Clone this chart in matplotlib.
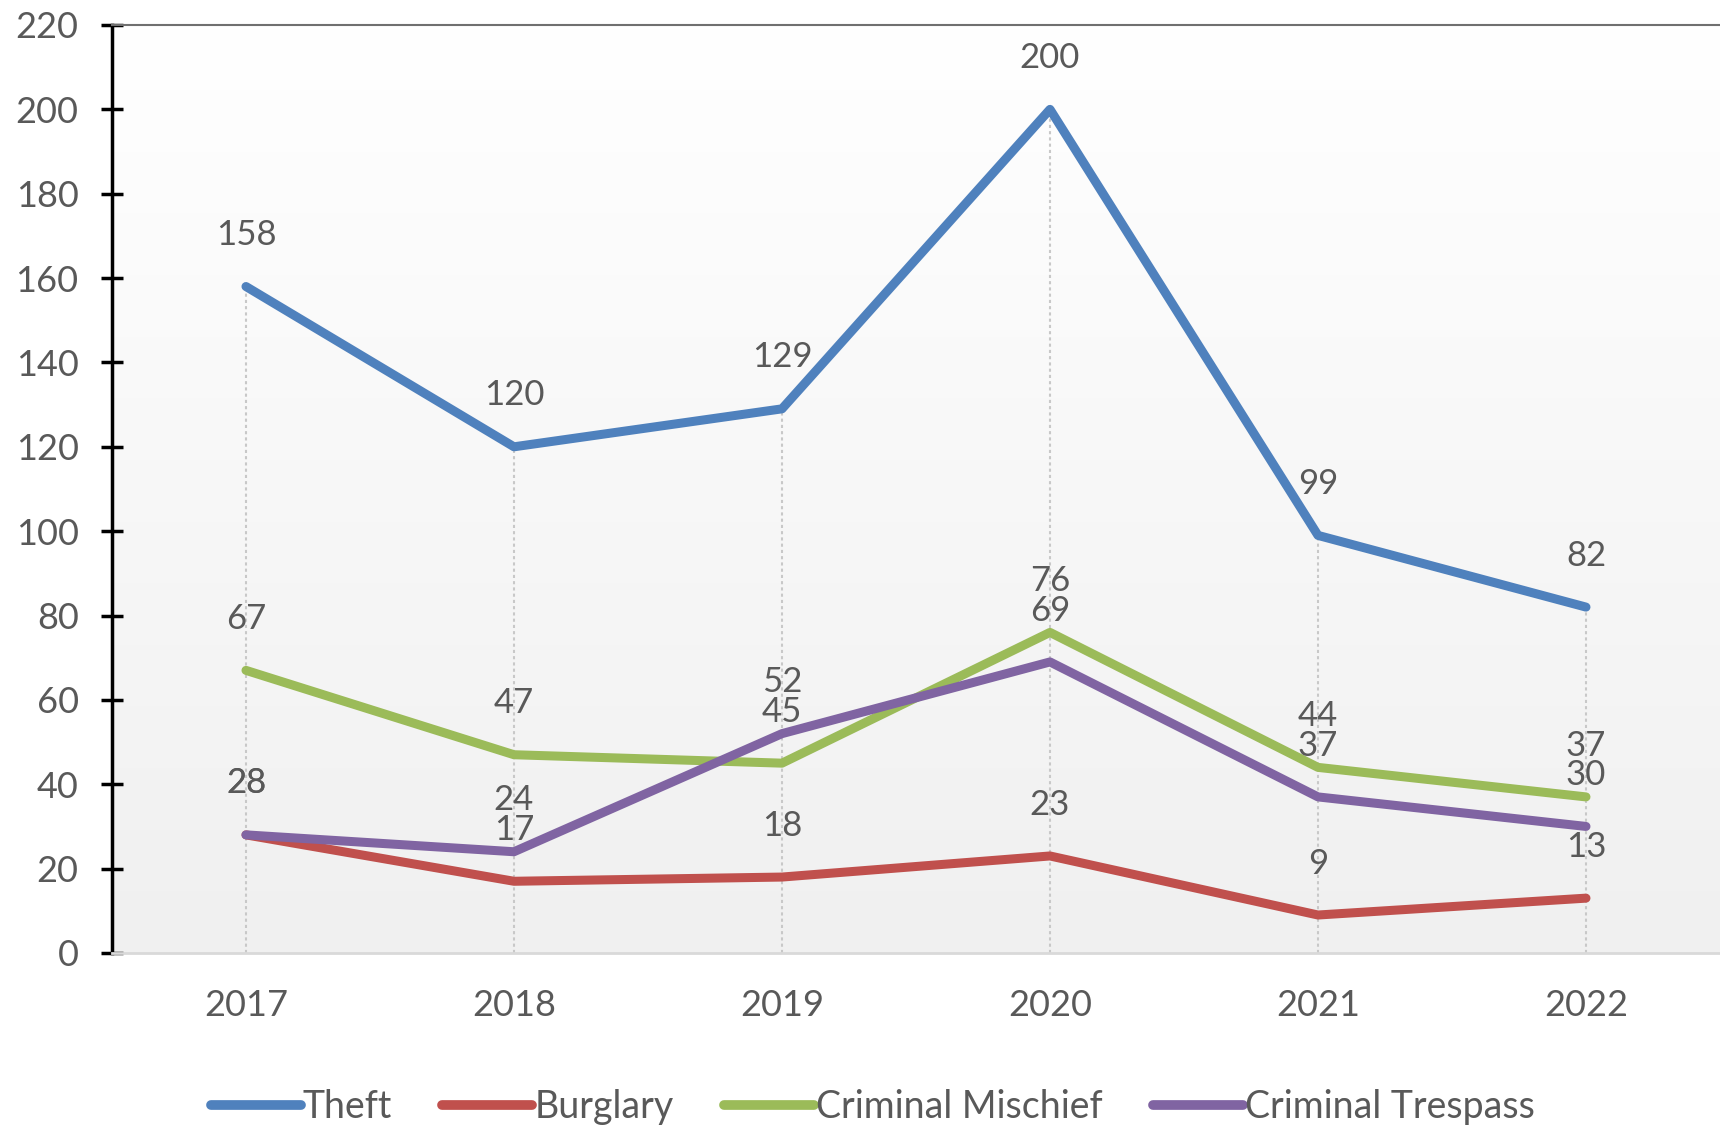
import numpy as np
import matplotlib.pyplot as plt

plt.rcParams['font.family'] = ['Lato', 'DejaVu Sans']

years = ['2017', '2018', '2019', '2020', '2021', '2022']
theft = [158, 120, 129, 200, 99, 82]
burglary = [28, 17, 18, 23, 9, 13]
mischief = [67, 47, 45, 76, 44, 37]
trespass = [28, 24, 52, 69, 37, 30]

series = [
    ('Theft', theft, '#4F81BD'),
    ('Burglary', burglary, '#C0504D'),
    ('Criminal Mischief', mischief, '#9BBB59'),
    ('Criminal Trespass', trespass, '#8064A2'),
]
txt_col = '#595959'

fig = plt.figure(figsize=(17.2, 11.31), dpi=100)
ax = fig.add_axes([0.0651, 0.1574, 0.9349, 0.8205])

x = np.arange(len(years))

# background gradient, white at top to light gray at bottom
grad = np.linspace(1.0, 0.0, 256).reshape(-1, 1)
ax.imshow(grad, extent=[0, 1, 0, 1], transform=ax.transAxes, aspect='auto',
          cmap=plt.matplotlib.colors.LinearSegmentedColormap.from_list('g', ['#f0f0f0', '#ffffff']),
          zorder=0)

# drop lines
tops = np.max([theft, burglary, mischief, trespass], axis=0)
ax.vlines(x, 0, tops, colors='#c8c8c8', linestyles=(0, (1.5, 1.5)), linewidth=1.5, zorder=1)

for name, vals, col in series:
    ax.plot(x, vals, color=col, linewidth=6.5, solid_capstyle='round',
            solid_joinstyle='round', label=name, zorder=3)
    for xi, v in zip(x, vals):
        ax.annotate(str(v), (xi, v), xytext=(0, 37), textcoords='offset points',
                    ha='center', va='center', fontsize=25, color=txt_col, zorder=4)

ax.set_xlim(-0.5, len(years) - 0.5)
ax.set_ylim(0, 220)
ax.set_yticks(range(0, 221, 20))
ax.set_xticks(x)
ax.set_xticklabels(years)

ax.spines['right'].set_visible(False)
ax.spines['top'].set_color('#707070')
ax.spines['top'].set_linewidth(1.5)
ax.spines['bottom'].set_color('#d9d9d9')
ax.spines['bottom'].set_linewidth(2)
ax.spines['left'].set_color('black')
ax.spines['left'].set_linewidth(2.5)

ax.tick_params(axis='y', direction='inout', length=16, width=2.5, color='black',
               labelsize=26, labelcolor=txt_col, pad=16)
ax.tick_params(axis='x', length=0, labelsize=26, labelcolor=txt_col, pad=26)

leg = fig.legend(loc='center', bbox_to_anchor=(0.5075, 0.021), ncol=4, frameon=False,
                 fontsize=27, handlelength=2.4, handletextpad=0.05, columnspacing=1.35,
                 labelcolor=txt_col)
for h in leg.get_lines():
    h.set_linewidth(7)

fig.savefig('out.png', dpi=100)
